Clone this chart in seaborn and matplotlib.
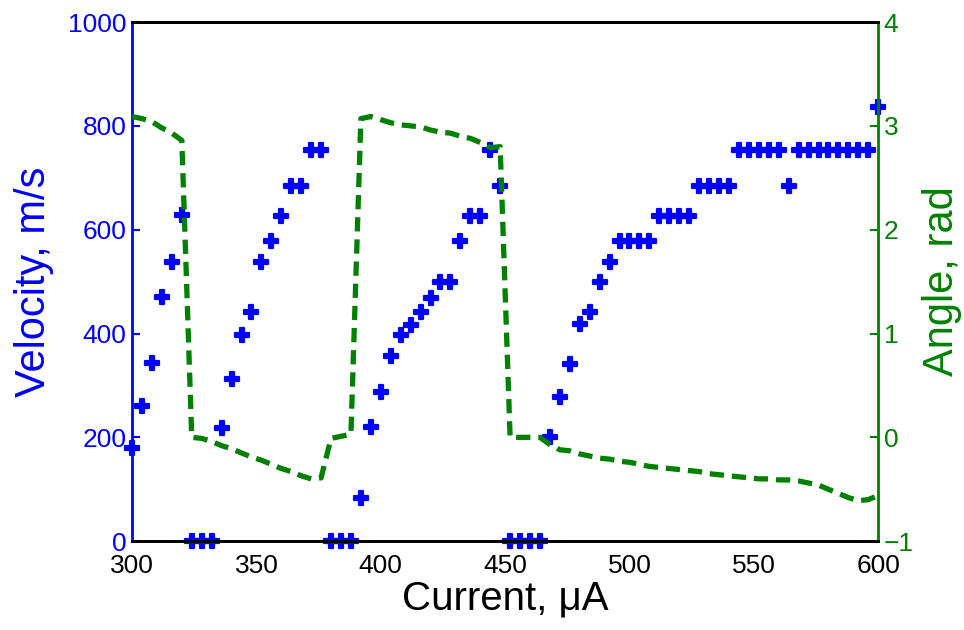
import numpy as np
import pandas as pd
import seaborn as sns
import matplotlib
matplotlib.use("Agg")
import matplotlib.pyplot as plt

# current axis, 4 uA steps from 300 to 600
current = np.arange(300, 601, 4)

velocity = [179, 260, 343, 470, 538, 628, 0, 0, 0, 218,
            312, 397, 442, 538, 579, 626, 684, 684, 753, 753,
            0, 0, 0, 84, 220, 288, 356, 397, 417, 442,
            469, 500, 500, 579, 626, 626, 753, 684, 0, 0,
            0, 0, 200, 278, 342, 418, 442, 500, 538, 579,
            579, 579, 579, 626, 626, 626, 626, 684, 684, 684,
            684, 753, 753, 753, 753, 753, 684, 753, 753, 753,
            753, 753, 753, 753, 753, 837]

angle = [3.09, 3.07, 3.04, 2.98, 2.93, 2.86, 0.00, -0.01, -0.04, -0.08,
         -0.11, -0.15, -0.19, -0.22, -0.26, -0.30, -0.33, -0.37, -0.40, -0.39,
         -0.01, 0.01, 0.03, 3.07, 3.09, 3.06, 3.03, 3.01, 3.00, 2.99,
         2.96, 2.94, 2.93, 2.90, 2.88, 2.84, 2.79, 2.80, 0.00, 0.00,
         0.00, 0.00, -0.07, -0.12, -0.13, -0.16, -0.18, -0.20, -0.21, -0.23,
         -0.24, -0.26, -0.28, -0.29, -0.30, -0.31, -0.32, -0.33, -0.35, -0.36,
         -0.37, -0.38, -0.39, -0.40, -0.40, -0.41, -0.41, -0.42, -0.44, -0.46,
         -0.50, -0.54, -0.58, -0.61, -0.60, -0.56]

x_ticks = [300, 350, 400, 450, 500, 550, 600]
v_ticks = [0, 200, 400, 600, 800, 1000]
a_ticks = [-1, 0, 1, 2, 3, 4]

BLUE = "#0000ff"
GREEN = "#008000"

df = pd.DataFrame({"current": current, "velocity": velocity, "angle": angle})

sns.set_style("white")
plt.rcParams["font.family"] = ["Liberation Sans", "DejaVu Sans"]

fig = plt.figure(figsize=(9.64, 6.30), dpi=100)
ax = fig.add_axes([0.137, 0.141, 0.774, 0.824])

sns.scatterplot(data=df, x="current", y="velocity", ax=ax, color=BLUE,
                marker="P", s=100, linewidth=1.6, edgecolor=BLUE,
                zorder=3, clip_on=False)

ax2 = ax.twinx()
sns.lineplot(data=df, x="current", y="angle", ax=ax2, color=GREEN,
             linewidth=3.8, linestyle=(0, (2.7, 1.5)), sort=False)

ax.set_xlim(300, 600)
ax.set_ylim(0, 1000)
ax2.set_ylim(-1, 4)
ax.set_xticks(x_ticks)
ax.set_yticks(v_ticks)
ax2.set_yticks(a_ticks)

ax.set_xlabel("Current, \u03bcA", fontsize=29, color="black", labelpad=1)
ax.set_ylabel("Velocity, m/s", fontsize=30, color=BLUE, labelpad=10)
ax2.set_ylabel("Angle, rad", fontsize=30, color=GREEN, labelpad=6)

ax.tick_params(axis="x", direction="in", length=6, width=1.5, labelsize=19,
               colors="black", pad=9, top=False)
ax.tick_params(axis="y", direction="in", length=6, width=1.5, labelsize=19,
               colors=BLUE, pad=4)
ax2.tick_params(axis="y", direction="in", length=6, width=1.5, labelsize=19,
                colors=GREEN, pad=4)

for a in (ax, ax2):
    for s in a.spines.values():
        s.set_linewidth(2)
    a.spines["top"].set_color("black")
    a.spines["bottom"].set_color("black")
ax.spines["left"].set_color(BLUE)
ax.spines["right"].set_visible(False)
ax2.spines["left"].set_visible(False)
ax2.spines["right"].set_color(GREEN)

plt.savefig("out.png", dpi=100)
plt.close()
